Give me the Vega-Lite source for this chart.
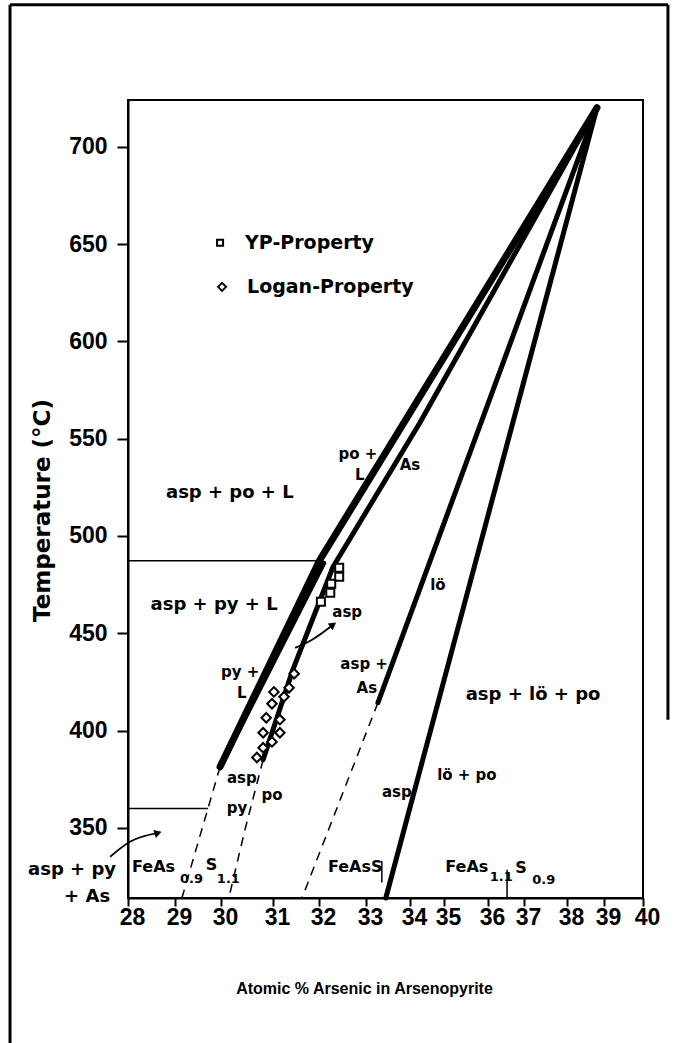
{
  "$schema": "https://vega.github.io/schema/vega-lite/v6.json",
  "width": 515,
  "height": 798,
  "autosize": {"type": "none"},
  "padding": {"left": 128, "top": 100, "right": 31, "bottom": 145},
  "background": "white",
  "config": {"view": {"stroke": "black", "strokeWidth": 2}},
  "datasets": {
    "frame": [
      {"x": 25.49, "t": 773, "x2": 25.49, "t2": 239},
      {"x": 25.49, "t": 773, "x2": 40.64, "t2": 773},
      {"x": 40.64, "t": 773, "x2": 40.64, "t2": 405.6}
    ],
    "rules": [
      {"x": 28, "t": 487.3, "x2": 32.02, "t2": 487.3},
      {"x": 28, "t": 360, "x2": 29.72, "t2": 360},
      {"x": 33.36, "t": 333, "x2": 33.36, "t2": 322},
      {"x": 36.53, "t": 328.5, "x2": 36.53, "t2": 314}
    ],
    "dashed": [
      {"id": "d1", "o": 1, "x": 29.98, "t": 381.4},
      {"id": "d1", "o": 2, "x": 29.15, "t": 314},
      {"id": "d2", "o": 1, "x": 30.81, "t": 385},
      {"id": "d2", "o": 2, "x": 30.46, "t": 349},
      {"id": "d2", "o": 3, "x": 30.15, "t": 314},
      {"id": "d3", "o": 1, "x": 33.27, "t": 414.3},
      {"id": "d3", "o": 2, "x": 31.63, "t": 314}
    ],
    "thick": [
      {"id": "A", "o": 1, "x": 29.98, "t": 381.4},
      {"id": "A", "o": 2, "x": 32.02, "t": 487.8},
      {"id": "A", "o": 3, "x": 38.81, "t": 720},
      {"id": "W", "o": 1, "x": 29.98, "t": 381.4},
      {"id": "W", "o": 2, "x": 32.1, "t": 486},
      {"id": "B", "o": 1, "x": 38.81, "t": 720},
      {"id": "B", "o": 2, "x": 34.29, "t": 558.2},
      {"id": "B", "o": 3, "x": 32.3, "t": 484.2},
      {"id": "B", "o": 4, "x": 31.43, "t": 431.2},
      {"id": "B", "o": 5, "x": 30.81, "t": 385},
      {"id": "C", "o": 1, "x": 38.81, "t": 720},
      {"id": "C", "o": 2, "x": 33.27, "t": 414.3},
      {"id": "D", "o": 1, "x": 38.81, "t": 720},
      {"id": "D", "o": 2, "x": 33.45, "t": 314}
    ],
    "arrows": [
      {"id": "a1", "o": 1, "x": 31.48, "t": 442.5},
      {"id": "a1", "o": 2, "x": 31.85, "t": 446.7},
      {"id": "a1", "o": 3, "x": 32.3, "t": 454.4},
      {"id": "a2", "o": 1, "x": 27.62, "t": 335.2},
      {"id": "a2", "o": 2, "x": 28.04, "t": 342.9},
      {"id": "a2", "o": 3, "x": 28.64, "t": 347.5}
    ],
    "yp": [
      {"x": 32.43, "t": 483.7},
      {"x": 32.43, "t": 479},
      {"x": 32.26, "t": 475.4},
      {"x": 32.24, "t": 470.8},
      {"x": 32.04, "t": 466.2}
    ],
    "logan": [
      {"x": 31.46, "t": 429.2},
      {"x": 31.35, "t": 422},
      {"x": 31.02, "t": 419.9},
      {"x": 31.24, "t": 417.4},
      {"x": 30.98, "t": 413.8},
      {"x": 30.87, "t": 406.6},
      {"x": 31.15, "t": 405.6},
      {"x": 30.81, "t": 398.9},
      {"x": 31.15, "t": 398.9},
      {"x": 30.98, "t": 394.2},
      {"x": 30.81, "t": 391.2},
      {"x": 30.69, "t": 386.2}
    ],
    "legend": [
      {"k": "yp", "x": 29.98, "t": 650.7, "text": "YP-Property"},
      {"k": "logan", "x": 30.02, "t": 628, "text": "Logan-Property"}
    ],
    "labels": [
      {"k": "big", "text": "asp + po + L", "x": 30.17, "t": 522.2},
      {"k": "big", "text": "asp + py + L", "x": 29.85, "t": 464.6},
      {"k": "big", "text": "asp + lö + po", "x": 37.21, "t": 418.4},
      {"k": "big", "text": "asp + py", "x": 26.81, "t": 328.5},
      {"k": "big", "text": "+ As", "x": 27.13, "t": 314.6},
      {"k": "small", "text": "po +", "x": 32.83, "t": 542.2},
      {"k": "small", "text": "L", "x": 32.87, "t": 531.4},
      {"k": "small", "text": "As", "x": 34.0, "t": 536.6},
      {"k": "small", "text": "asp", "x": 32.6, "t": 461},
      {"k": "small", "text": "py +", "x": 30.37, "t": 430.2},
      {"k": "small", "text": "L", "x": 30.4, "t": 419.4},
      {"k": "small", "text": "asp +", "x": 32.96, "t": 434.3},
      {"k": "small", "text": "As", "x": 33.02, "t": 422},
      {"k": "small", "text": "asp", "x": 30.4, "t": 375.8},
      {"k": "small", "text": "py", "x": 30.31, "t": 360.3},
      {"k": "small", "text": "po", "x": 30.98, "t": 366.8},
      {"k": "small", "text": "asp", "x": 33.7, "t": 368.6},
      {"k": "small", "text": "lö", "x": 34.82, "t": 474.9},
      {"k": "small", "text": "lö + po", "x": 35.52, "t": 377.3}
    ],
    "comp": [
      {"k": "main", "text": "FeAs", "x": 28.085, "t": 330},
      {"k": "sub", "text": "0.9", "x": 29.11, "t": 323.8},
      {"k": "main", "text": "S", "x": 29.67, "t": 331},
      {"k": "sub", "text": "1.1", "x": 29.91, "t": 323.8},
      {"k": "main", "text": "FeAsS", "x": 32.19, "t": 330},
      {"k": "main", "text": "FeAs", "x": 35.03, "t": 330},
      {"k": "sub", "text": "1.1", "x": 36.05, "t": 324.9},
      {"k": "main", "text": "S", "x": 36.76, "t": 329.5},
      {"k": "sub", "text": "0.9", "x": 37.19, "t": 323.3}
    ]
  },
  "encoding": {
    "x": {
      "field": "x",
      "type": "quantitative",
      "scale": {
        "domain": [28, 29, 30, 31, 32, 33, 34, 35, 36, 37, 38, 39, 40],
        "range": [0, 47, 93, 145, 191, 238, 282, 316, 360, 396, 439, 476, 515],
        "nice": false,
        "zero": false
      },
      "axis": {
        "values": [28, 29, 30, 31, 32, 33, 34, 35, 36, 37, 38, 39, 40],
        "grid": false,
        "title": "Atomic % Arsenic in Arsenopyrite",
        "titleFont": "Liberation Sans",
        "titleFontSize": 16,
        "titleFontWeight": "bold",
        "titleColor": "black",
        "titleX": 236,
        "titleY": 95,
        "titleAlign": "center",
        "titleBaseline": "alphabetic",
        "labelFont": "Liberation Sans",
        "labelFontSize": 23,
        "labelFontWeight": "bold",
        "labelColor": "black",
        "labelPadding": 0,
        "labelOffset": 4,
        "labelOverlap": false,
        "labelFlush": false,
        "tickColor": "black",
        "tickSize": 8,
        "tickWidth": 2,
        "domainColor": "black",
        "domainWidth": 2
      }
    },
    "y": {
      "field": "t",
      "type": "quantitative",
      "scale": {"domain": [314, 724], "nice": false, "zero": false},
      "axis": {
        "values": [350, 400, 450, 500, 550, 600, 650, 700],
        "grid": false,
        "title": "Temperature (°C)",
        "titleFont": "DejaVu Sans",
        "titleFontSize": 23,
        "titleFontWeight": "bold",
        "titleColor": "black",
        "titleX": -86,
        "titleY": 410,
        "titleAlign": "center",
        "titleBaseline": "middle",
        "labelFont": "Liberation Sans",
        "labelFontSize": 23,
        "labelFontWeight": "bold",
        "labelColor": "black",
        "labelPadding": 10,
        "tickColor": "black",
        "tickSize": 11,
        "tickWidth": 2,
        "domainColor": "black",
        "domainWidth": 2
      }
    }
  },
  "layer": [
    {
      "data": {"name": "frame"},
      "mark": {"type": "rule", "color": "black", "strokeWidth": 3},
      "encoding": {"x2": {"field": "x2"}, "y2": {"field": "t2"}}
    },
    {
      "data": {"name": "rules"},
      "mark": {"type": "rule", "color": "black", "strokeWidth": 1.5},
      "encoding": {"x2": {"field": "x2"}, "y2": {"field": "t2"}}
    },
    {
      "data": {"name": "dashed"},
      "mark": {"type": "line", "color": "black", "strokeWidth": 1.5, "strokeDash": [9, 7]},
      "encoding": {"detail": {"field": "id"}, "order": {"field": "o"}}
    },
    {
      "data": {"name": "thick"},
      "transform": [{"filter": "datum.id === 'A'"}],
      "mark": {"type": "line", "color": "black", "strokeWidth": 7, "strokeCap": "round", "strokeJoin": "round"},
      "encoding": {"detail": {"field": "id"}, "order": {"field": "o"}}
    },
    {
      "data": {"name": "thick"},
      "transform": [{"filter": "datum.id !== 'A'"}],
      "mark": {"type": "line", "color": "black", "strokeWidth": 5, "strokeCap": "round", "strokeJoin": "round"},
      "encoding": {"detail": {"field": "id"}, "order": {"field": "o"}}
    },
    {
      "data": {"name": "arrows"},
      "mark": {"type": "line", "color": "black", "strokeWidth": 1.8, "interpolate": "monotone"},
      "encoding": {"detail": {"field": "id"}, "order": {"field": "o"}}
    },
    {
      "data": {"name": "arrows"},
      "transform": [{"filter": "datum.id === 'a1' && datum.o === 3"}],
      "mark": {"type": "point", "shape": "triangle-up", "filled": true, "color": "black", "size": 70, "angle": 54, "opacity": 1}
    },
    {
      "data": {"name": "arrows"},
      "transform": [{"filter": "datum.id === 'a2' && datum.o === 3"}],
      "mark": {"type": "point", "shape": "triangle-up", "filled": true, "color": "black", "size": 70, "angle": 72, "opacity": 1}
    },
    {
      "data": {"name": "yp"},
      "mark": {"type": "point", "shape": "square", "filled": true, "fill": "white", "stroke": "black", "strokeWidth": 2, "size": 64, "opacity": 1}
    },
    {
      "data": {"name": "logan"},
      "mark": {"type": "point", "shape": "diamond", "filled": true, "fill": "white", "stroke": "black", "strokeWidth": 2, "size": 90, "opacity": 1}
    },
    {
      "data": {"name": "legend"},
      "transform": [{"filter": "datum.k === 'yp'"}],
      "mark": {"type": "point", "shape": "square", "filled": false, "stroke": "black", "strokeWidth": 2, "size": 36, "opacity": 1}
    },
    {
      "data": {"name": "legend"},
      "transform": [{"filter": "datum.k === 'logan'"}],
      "mark": {"type": "point", "shape": "diamond", "filled": false, "stroke": "black", "strokeWidth": 2, "size": 64, "opacity": 1}
    },
    {
      "data": {"name": "legend"},
      "mark": {"type": "text", "font": "DejaVu Sans", "fontWeight": "bold", "fontSize": 19, "align": "left", "baseline": "middle", "dx": 25, "color": "black"},
      "encoding": {"text": {"field": "text"}}
    },
    {
      "data": {"name": "labels"},
      "transform": [{"filter": "datum.k === 'big'"}],
      "mark": {"type": "text", "font": "DejaVu Sans", "fontWeight": "bold", "fontSize": 18, "align": "center", "baseline": "middle", "color": "black"},
      "encoding": {"text": {"field": "text"}}
    },
    {
      "data": {"name": "labels"},
      "transform": [{"filter": "datum.k === 'small'"}],
      "mark": {"type": "text", "font": "DejaVu Sans", "fontWeight": "bold", "fontSize": 15, "align": "center", "baseline": "middle", "color": "black"},
      "encoding": {"text": {"field": "text"}}
    },
    {
      "data": {"name": "comp"},
      "transform": [{"filter": "datum.k === 'main'"}],
      "mark": {"type": "text", "font": "DejaVu Sans", "fontWeight": "bold", "fontSize": 16, "align": "left", "baseline": "middle", "color": "black"},
      "encoding": {"text": {"field": "text"}}
    },
    {
      "data": {"name": "comp"},
      "transform": [{"filter": "datum.k === 'sub'"}],
      "mark": {"type": "text", "font": "DejaVu Sans", "fontWeight": "bold", "fontSize": 13, "align": "left", "baseline": "middle", "color": "black"},
      "encoding": {"text": {"field": "text"}}
    }
  ]
}
